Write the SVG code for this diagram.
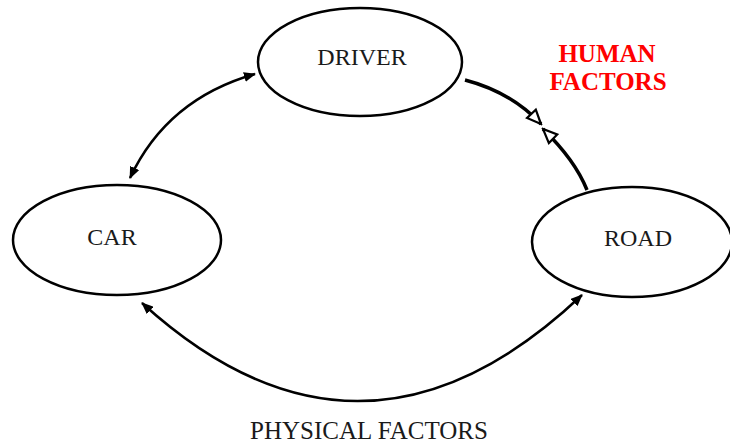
<svg xmlns="http://www.w3.org/2000/svg" width="730" height="443" viewBox="0 0 730 443">
<style>
.node{fill:#fff;stroke:#000;stroke-width:2.5}
.lbl{font-family:"Liberation Serif","Times New Roman",serif;font-size:24px;fill:#1a1a1a;text-anchor:middle}
.conn{fill:none;stroke:#000;stroke-width:2.5}
.thick{fill:none;stroke:#000;stroke-width:3.5}
.red{font-family:"Liberation Serif","Times New Roman",serif;font-size:25px;font-weight:bold;fill:#ff0000;text-anchor:middle}
</style>
<defs>
<marker id="fa" viewBox="0 0 12 10" refX="11" refY="5" markerWidth="12" markerHeight="10" markerUnits="userSpaceOnUse" orient="auto-start-reverse">
<path d="M0,0 L12,5 L0,10 z" fill="#000"/>
</marker>
<marker id="oa" viewBox="0 0 18 16" refX="16" refY="8" markerWidth="18" markerHeight="16" markerUnits="userSpaceOnUse" orient="auto">
<path d="M2,2 L16,8 L2,14 z" fill="#fff" stroke="#000" stroke-width="2.2"/>
</marker>
</defs>
<g id="connectors">
<path class="conn" d="M130,178 Q167,99 255,74" marker-start="url(#fa)" marker-end="url(#fa)"/>
<path class="conn" d="M142,303 Q362,503 582,295" marker-start="url(#fa)" marker-end="url(#fa)"/>
<path class="thick" d="M465,80 Q511,92 541,124" marker-end="url(#oa)"/>
<path class="thick" d="M587,190 Q575,160 543,129" marker-end="url(#oa)"/>
</g>
<g id="driver">
<ellipse class="node" cx="360" cy="62" rx="102" ry="54"/>
<text class="lbl" x="362" y="65">DRIVER</text>
</g>
<g id="car">
<ellipse class="node" cx="117" cy="240" rx="104" ry="55"/>
<text class="lbl" x="112" y="245">CAR</text>
</g>
<g id="road">
<ellipse class="node" cx="632" cy="242" rx="100" ry="55"/>
<text class="lbl" x="638" y="246">ROAD</text>
</g>
<g id="labels">
<text class="red" x="607" y="62">HUMAN</text>
<text class="red" x="608" y="90">FACTORS</text>
<text class="lbl" x="369" y="439" style="font-size:25px">PHYSICAL FACTORS</text>
</g>
</svg>
